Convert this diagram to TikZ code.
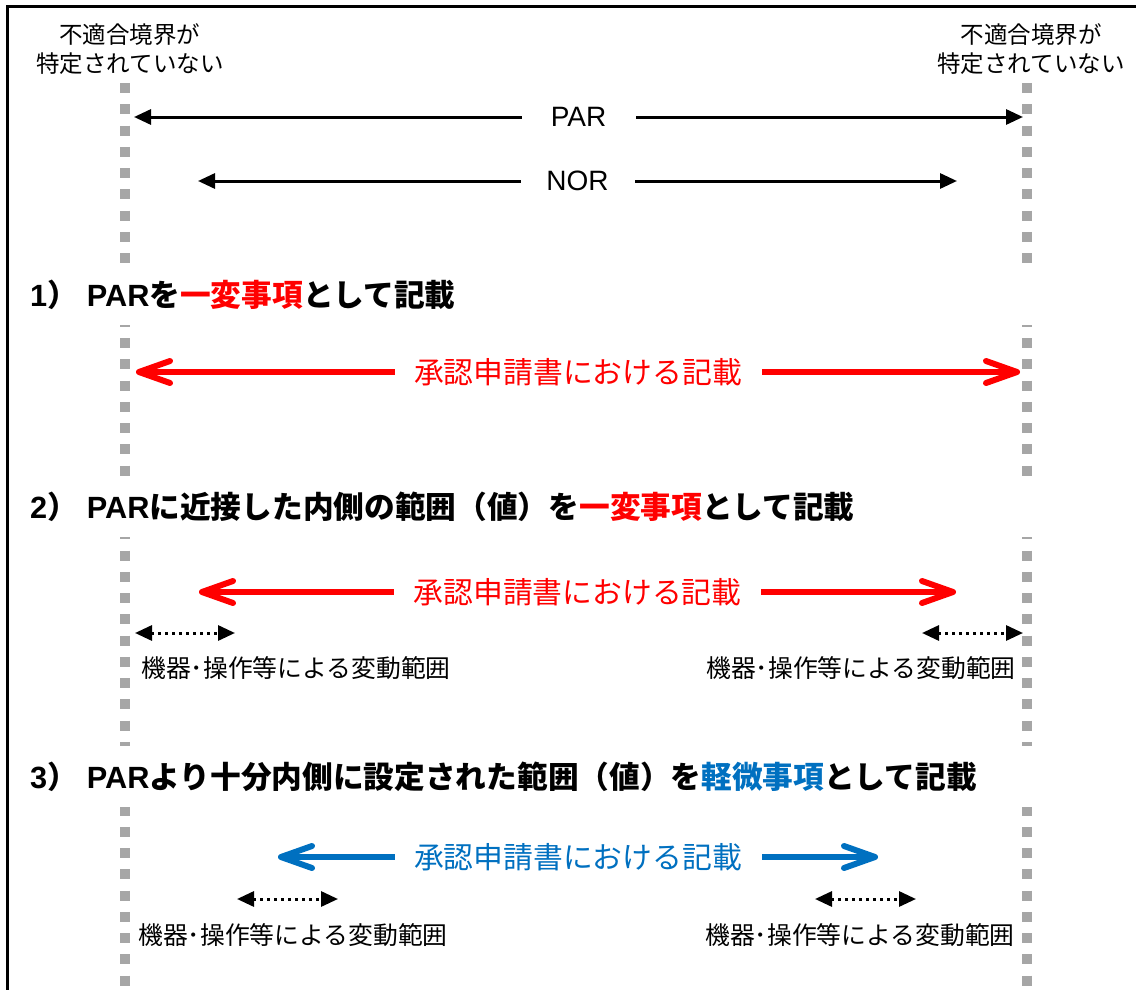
\documentclass[tikz,border=0pt]{standalone}
\usepackage{fontspec}
\setmainfont{Liberation Sans}
\newfontfamily\jp{Noto Sans CJK JP}
\usetikzlibrary{arrows.meta}
\definecolor{pred}{HTML}{FF0000}
\definecolor{pblue}{HTML}{0070C0}
\definecolor{dgray}{HTML}{A6A6A6}
\newcommand\lat{\rmfamily}
\begin{document}
\begin{tikzpicture}[x=1pt,y=-1pt,
  gdot/.style={dgray,line width=10pt,dash pattern=on 10pt off 11.25pt},
  head/.style={anchor=west,fill=white,text width=1060pt,align=left,minimum height=61pt,inner xsep=0pt,inner ysep=0pt,font=\jp\bfseries\fontsize{30.7}{34}\selectfont},
  blk/.style={line width=3pt,{Triangle[length=17pt,width=15pt]}-{Triangle[length=17pt,width=15pt]}},
  blbl/.style={fill=white,minimum width=114pt,inner sep=0pt,font=\lat\fontsize{28}{32}\selectfont},
  bigarr/.style={line width=6pt,line cap=round,{Straight Barb[length=31pt,width=22pt,line cap=round,line join=round]}-{Straight Barb[length=31pt,width=22pt,line cap=round,line join=round]}},
  biglbl/.style={fill=white,minimum width=367pt,inner sep=0pt,font=\jp\fontsize{29.8}{34}\selectfont},
  small/.style={line width=3pt,dash pattern=on 3pt off 4pt,{Triangle[length=17pt,width=15pt]}-{Triangle[length=17pt,width=15pt]}},
  slbl/.style={inner sep=0pt,font=\jp\fontsize{24.8}{28}\selectfont},
  toplbl/.style={inner sep=0pt,align=center,font=\jp\fontsize{23.5}{29}\selectfont}]
\useasboundingbox (0,0) rectangle (1136,990);
\draw[line width=2.5pt] (7.5,1000) -- (7.5,6.5) -- (1140,6.5);
% boundary dotted lines
\coordinate (lt) at (125,83);
\coordinate (lb) at (125,1000);
\coordinate (rt) at (1027,83);
\coordinate (rb) at (1027,1000);
\draw[gdot] (lt) -- (lb);
\draw[gdot] (rt) -- (rb);
% top labels
\node[toplbl] (tl) at (130,49) {不適合境界が\\特定されていない};
\node[toplbl] (tr) at (1031,49) {不適合境界が\\特定されていない};
% PAR / NOR
\coordinate (parL) at (134,117);
\coordinate (parR) at (1023,117);
\draw[blk] (parL) -- node[blbl] (parlab) {PAR} (parR);
\coordinate (norL) at (198,181);
\coordinate (norR) at (957,181);
\draw[blk] (norL) -- node[blbl] (norlab) {NOR} (norR);
% headings
\node[head] (h1) at (30,294.5) {{\lat\bfseries 1}）\hspace{9pt}{\lat\bfseries PAR}を\textcolor{pred}{一変事項}として記載};
\node[head] (h2) at (30,506.5) {{\lat\bfseries 2}）\hspace{9pt}{\lat\bfseries PAR}に近接した内側の範囲（値）を\textcolor{pred}{一変事項}として記載};
\node[head] (h3) at (30,776.5) {{\lat\bfseries 3}）\hspace{9pt}{\lat\bfseries PAR}より十分内側に設定された範囲（値）を\textcolor{pblue}{軽微事項}として記載};
% section 1
\coordinate (a1L) at (136,372);
\coordinate (a1R) at (1020,372);
\draw[bigarr,pred] (a1L) -- node[biglbl,text=pred] (l1) {承認申請書における記載} (a1R);
% section 2
\coordinate (a2L) at (199,592);
\coordinate (a2R) at (956,592);
\draw[bigarr,pred] (a2L) -- node[biglbl,text=pred] (l2) {承認申請書における記載} (a2R);
\coordinate (s2aL) at (135,633);
\coordinate (s2aR) at (235,633);
\coordinate (s2bL) at (922,633);
\coordinate (s2bR) at (1023,633);
\draw[small] (s2aL) -- (s2aR);
\draw[small] (s2bL) -- (s2bR);
\node[slbl] (t2a) at (296,668) {機器･操作等による変動範囲};
\node[slbl] (t2b) at (861,668) {機器･操作等による変動範囲};
% section 3
\coordinate (a3L) at (278,857);
\coordinate (a3R) at (878,857);
\draw[bigarr,pblue] (a3L) -- node[biglbl,text=pblue] (l3) {承認申請書における記載} (a3R);
\coordinate (s3aL) at (237,899);
\coordinate (s3aR) at (338,899);
\coordinate (s3bL) at (815,899);
\coordinate (s3bR) at (916,899);
\draw[small] (s3aL) -- (s3aR);
\draw[small] (s3bL) -- (s3bR);
\node[slbl] (t3a) at (293,935) {機器･操作等による変動範囲};
\node[slbl] (t3b) at (860,935) {機器･操作等による変動範囲};
\end{tikzpicture}
\end{document}
